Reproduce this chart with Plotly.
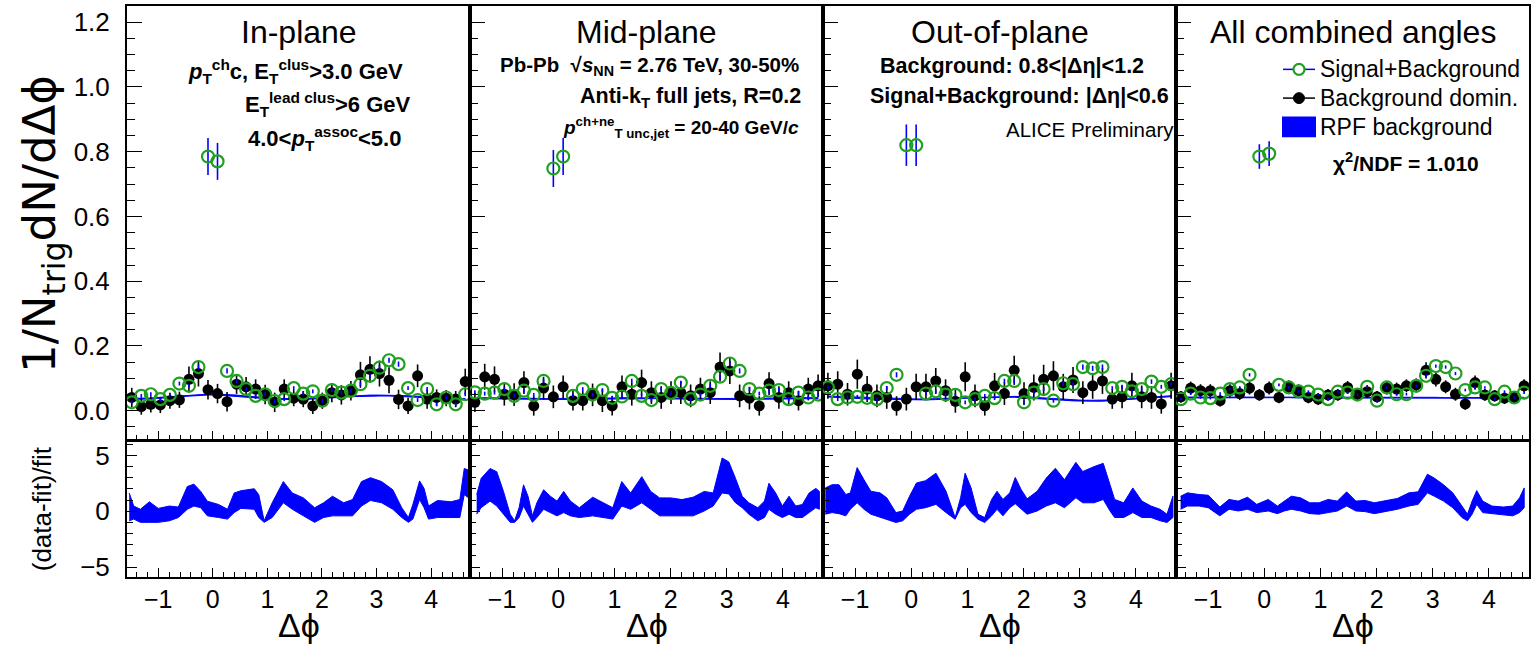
import numpy as np
import plotly.graph_objects as go

W, H = 1537, 652
FONT = "Liberation Sans, Arial, sans-serif"
GREEN = "#1fa01f"
BLUE = "#0000ff"

# ---------------- binning ----------------
NBINS = 36
PHI_MIN, PHI_MAX = -np.pi / 2, 3 * np.pi / 2
bw = (PHI_MAX - PHI_MIN) / NBINS
phi = [PHI_MIN + (i + 0.5) * bw for i in range(NBINS)]

panel_titles = ["In-plane", "Mid-plane", "Out-of-plane", "All combined angles"]
legend_labels = ["Signal+Background", "Background domin.", "RPF background"]

# ---------------- top panels: correlation functions ----------------
sig_in = [0.026, 0.046, 0.051, 0.036, 0.049, 0.084, 0.077, 0.135, 0.785, 0.770, 0.123, 0.092,
          0.067, 0.046, 0.051, 0.030, 0.036, 0.070, 0.053, 0.060, 0.031, 0.064, 0.056, 0.062,
          0.082, 0.108, 0.133, 0.156, 0.144, 0.070, 0.033, 0.067, 0.020, 0.041, 0.020, 0.051]
sig_err_in = [0.006, 0.006, 0.006, 0.006, 0.006, 0.006, 0.006, 0.008, 0.057, 0.057, 0.008, 0.006,
              0.006, 0.006, 0.006, 0.006, 0.006, 0.006, 0.006, 0.006, 0.006, 0.006, 0.006, 0.006,
              0.006, 0.007, 0.008, 0.008, 0.008, 0.006, 0.006, 0.006, 0.006, 0.006, 0.006, 0.006]
bkg_in = [0.041, 0.013, 0.020, 0.018, 0.031, 0.034, 0.097, 0.115, 0.065, 0.053, 0.028, 0.082,
          0.074, 0.067, 0.050, 0.026, 0.067, 0.039, 0.036, 0.015, 0.031, 0.056, 0.049, 0.062,
          0.111, 0.128, 0.115, 0.094, 0.035, 0.015, 0.108, 0.036, 0.041, 0.039, 0.036, 0.090]
bkg_err_in = [0.030, 0.025, 0.025, 0.025, 0.025, 0.025, 0.040, 0.040, 0.030, 0.030, 0.030, 0.030,
              0.030, 0.030, 0.030, 0.030, 0.030, 0.025, 0.025, 0.025, 0.025, 0.030, 0.030, 0.030,
              0.040, 0.040, 0.040, 0.040, 0.030, 0.025, 0.035, 0.030, 0.025, 0.025, 0.025, 0.040]
fit_in = [0.037, 0.037, 0.038, 0.040, 0.042, 0.045, 0.047, 0.049, 0.050, 0.050, 0.049, 0.047,
          0.044, 0.041, 0.039, 0.037, 0.036, 0.036, 0.036, 0.037, 0.039, 0.041, 0.043, 0.045,
          0.046, 0.047, 0.047, 0.047, 0.046, 0.045, 0.043, 0.041, 0.039, 0.037, 0.036, 0.036]

sig_mid = [0.057, 0.053, 0.056, 0.067, 0.046, 0.062, 0.049, 0.092, 0.748, 0.785, 0.046, 0.067,
           0.050, 0.064, 0.040, 0.044, 0.092, 0.046, 0.033, 0.067, 0.055, 0.087, 0.036, 0.050,
           0.077, 0.105, 0.146, 0.123, 0.067, 0.053, 0.062, 0.064, 0.036, 0.056, 0.041, 0.050]
sig_err_mid = [0.006, 0.006, 0.006, 0.006, 0.006, 0.006, 0.006, 0.007, 0.057, 0.057, 0.006, 0.006,
               0.006, 0.006, 0.006, 0.006, 0.007, 0.006, 0.006, 0.006, 0.006, 0.006, 0.006, 0.006,
               0.006, 0.007, 0.008, 0.008, 0.006, 0.006, 0.006, 0.006, 0.006, 0.006, 0.006, 0.006]
bkg_mid = [0.026, 0.105, 0.097, 0.051, 0.050, 0.087, 0.015, 0.070, 0.043, 0.074, 0.031, 0.031,
           0.049, 0.031, 0.015, 0.074, 0.051, 0.087, 0.056, 0.041, 0.056, 0.056, 0.046, 0.067,
           0.056, 0.135, 0.123, 0.046, 0.039, 0.015, 0.084, 0.041, 0.056, 0.031, 0.067, 0.077]
bkg_err_mid = [0.030, 0.040, 0.040, 0.035, 0.035, 0.035, 0.030, 0.035, 0.035, 0.035, 0.030, 0.030,
               0.035, 0.035, 0.030, 0.035, 0.035, 0.040, 0.035, 0.035, 0.035, 0.035, 0.035, 0.035,
               0.035, 0.045, 0.040, 0.035, 0.035, 0.030, 0.035, 0.035, 0.035, 0.030, 0.035, 0.035]
fit_mid = [0.039, 0.039, 0.038, 0.038, 0.037, 0.037, 0.037, 0.036, 0.036, 0.036, 0.036, 0.037,
           0.037, 0.038, 0.038, 0.039, 0.039, 0.039, 0.039, 0.039, 0.038, 0.038, 0.037, 0.037,
           0.036, 0.036, 0.036, 0.036, 0.036, 0.037, 0.037, 0.038, 0.038, 0.039, 0.039, 0.039]

sig_out = [0.072, 0.036, 0.041, 0.043, 0.040, 0.036, 0.070, 0.111, 0.820, 0.820, 0.053, 0.060,
           0.050, 0.049, 0.026, 0.036, 0.046, 0.039, 0.092, 0.092, 0.026, 0.056, 0.067, 0.031,
           0.085, 0.082, 0.135, 0.131, 0.135, 0.070, 0.074, 0.060, 0.067, 0.090, 0.074, 0.082]
sig_err_out = [0.006, 0.006, 0.006, 0.006, 0.006, 0.006, 0.006, 0.008, 0.064, 0.064, 0.006, 0.006,
               0.006, 0.006, 0.006, 0.006, 0.006, 0.006, 0.007, 0.007, 0.006, 0.006, 0.006, 0.006,
               0.006, 0.006, 0.008, 0.008, 0.008, 0.006, 0.006, 0.006, 0.006, 0.007, 0.006, 0.006]
bkg_out = [0.077, 0.082, 0.051, 0.113, 0.067, 0.046, 0.041, 0.015, 0.036, 0.074, 0.074, 0.092,
           0.062, 0.029, 0.105, 0.046, 0.015, 0.077, 0.053, 0.125, 0.053, 0.072, 0.097, 0.108,
           0.074, 0.095, 0.056, 0.077, 0.092, 0.036, 0.043, 0.077, 0.043, 0.041, 0.021, 0.077]
bkg_err_out = [0.040, 0.040, 0.035, 0.045, 0.040, 0.035, 0.035, 0.030, 0.035, 0.040, 0.040, 0.040,
               0.035, 0.035, 0.045, 0.035, 0.030, 0.040, 0.035, 0.045, 0.035, 0.040, 0.045, 0.045,
               0.040, 0.040, 0.035, 0.040, 0.040, 0.030, 0.035, 0.040, 0.035, 0.035, 0.030, 0.040]
fit_out = [0.044, 0.043, 0.042, 0.040, 0.038, 0.037, 0.036, 0.035, 0.035, 0.035, 0.035, 0.036,
           0.037, 0.038, 0.040, 0.041, 0.042, 0.043, 0.043, 0.043, 0.042, 0.040, 0.038, 0.036,
           0.034, 0.032, 0.031, 0.031, 0.031, 0.032, 0.034, 0.036, 0.039, 0.041, 0.043, 0.045]

sig_all = [0.036, 0.053, 0.041, 0.039, 0.053, 0.067, 0.072, 0.111, 0.785, 0.794, 0.080, 0.072,
           0.060, 0.059, 0.050, 0.036, 0.059, 0.056, 0.050, 0.074, 0.031, 0.072, 0.051, 0.051,
           0.077, 0.108, 0.138, 0.135, 0.115, 0.064, 0.072, 0.072, 0.036, 0.059, 0.041, 0.056]
sig_err_all = [0.004, 0.004, 0.004, 0.004, 0.004, 0.004, 0.004, 0.005, 0.038, 0.038, 0.004, 0.004,
               0.004, 0.004, 0.004, 0.004, 0.004, 0.004, 0.004, 0.004, 0.004, 0.004, 0.004, 0.004,
               0.004, 0.005, 0.005, 0.005, 0.005, 0.004, 0.004, 0.004, 0.004, 0.004, 0.004, 0.004]
bkg_all = [0.043, 0.070, 0.062, 0.062, 0.031, 0.062, 0.053, 0.070, 0.049, 0.070, 0.041, 0.074,
           0.062, 0.041, 0.036, 0.049, 0.049, 0.072, 0.051, 0.059, 0.043, 0.070, 0.067, 0.077,
           0.080, 0.125, 0.097, 0.074, 0.051, 0.021, 0.087, 0.049, 0.046, 0.039, 0.041, 0.077]
bkg_err_all = [0.018, 0.020, 0.020, 0.020, 0.018, 0.020, 0.020, 0.020, 0.018, 0.020, 0.018, 0.020,
               0.020, 0.018, 0.018, 0.018, 0.018, 0.020, 0.018, 0.020, 0.018, 0.020, 0.020, 0.020,
               0.020, 0.025, 0.022, 0.020, 0.020, 0.018, 0.022, 0.018, 0.018, 0.018, 0.018, 0.020]
fit_all = [0.041, 0.041, 0.041, 0.041, 0.041, 0.042, 0.042, 0.042, 0.042, 0.042, 0.042, 0.042,
           0.041, 0.041, 0.040, 0.040, 0.040, 0.040, 0.040, 0.040, 0.040, 0.040, 0.041, 0.041,
           0.041, 0.041, 0.040, 0.039, 0.039, 0.039, 0.040, 0.040, 0.040, 0.040, 0.040, 0.040]
FIT_HALFWIDTH = 0.0015

# ---------------- bottom panels: (data-fit)/fit bands ----------------
res_in_phi = [-1.53, -1.448, -1.325, -1.162, -0.998, -0.794, -0.63, -0.466, -0.344, -0.221, -0.098,
              0.107, 0.27, 0.393, 0.516, 0.761, 0.843, 0.941, 1.089, 1.293, 1.457, 1.661, 1.866,
              2.03, 2.193, 2.398, 2.561, 2.725, 2.889, 3.093, 3.298, 3.462, 3.584, 3.666, 3.789,
              3.871, 3.953, 4.117, 4.362, 4.526, 4.607, 4.689]
res_in_hi = [1.64, 0.47, 0.18, 0.85, 0.26, 0.47, 0.38, 2.22, 2.43, 1.78, 0.90, 0.61, 0.18, 1.64,
             1.84, 2.02, 1.49, -0.85, 0.76, 2.66, 1.64, 1.20, 0.32, 0.76, 1.35, 0.76, 1.05, 2.66,
             3.01, 2.66, 1.93, 0.32, -0.56, 0.61, 2.72, 2.05, 0.47, 0.97, 0.85, 1.05, 3.83, 3.68]
res_in_lo = [-0.85, -0.70, -0.99, -0.99, -0.99, -0.85, -0.56, 0.18, 0.47, 0.32, -0.41, -0.56,
             -0.70, -0.12, 0.26, 0.18, -0.56, -0.99, -0.56, 0.76, 0.18, -0.41, -0.99, -0.56,
             -0.41, -0.41, -0.41, 0.47, 0.97, 0.76, 0.18, -0.56, -0.99, -0.70, 1.05, 0.32, -0.70,
             -0.56, -0.56, -0.56, 1.49, 1.20]

res_mid_phi = [-1.452, -1.372, -1.214, -1.094, -0.975, -0.856, -0.777, -0.697, -0.618, -0.538,
               -0.459, -0.38, -0.26, -0.141, -0.022, 0.097, 0.216, 0.375, 0.613, 0.812, 0.971,
               1.13, 1.289, 1.487, 1.646, 1.805, 2.003, 2.202, 2.4, 2.599, 2.758, 2.917, 3.036,
               3.155, 3.274, 3.393, 3.552, 3.671, 3.75, 3.87, 3.989, 4.108, 4.227, 4.346, 4.465,
               4.585, 4.648]
res_mid_hi = [1.49, 2.95, 3.83, 3.54, 1.78, -0.26, -0.85, 0.32, 2.37, 1.35, -0.41, 0.76, 1.93,
              1.35, 0.91, 1.78, 0.91, 0.32, 1.26, 0.76, 0.32, 2.66, 1.64, 3.10, 1.78, 1.20, 1.20,
              1.05, 1.26, 1.78, 1.64, 4.77, 4.42, 2.95, 1.35, 0.76, 0.32, 0.91, 2.51, 1.64, 0.47,
              1.35, 0.47, 0.61, 1.64, 2.05, 1.78]
res_mid_lo = [-0.26, 0.32, 0.91, 0.47, -0.26, -0.99, -0.99, -0.56, 0.47, -0.26, -0.99, -0.56,
              0.18, -0.12, -0.41, -0.12, -0.41, -0.56, -0.41, -0.56, -0.70, 0.47, 0.18, 0.76,
              0.18, -0.41, -0.41, -0.41, -0.41, 0.03, 0.47, 1.64, 1.55, 0.76, 0.32, -0.26, -0.85,
              -0.56, 0.18, -0.26, -0.56, -0.26, -0.56, -0.56, -0.12, 0.32, 0.18]

res_out_phi = [-1.53, -1.409, -1.287, -1.165, -1.084, -0.963, -0.841, -0.719, -0.557, -0.436,
               -0.273, -0.152, -0.03, 0.092, 0.254, 0.44, 0.619, 0.781, 0.878, 0.959, 1.065,
               1.187, 1.308, 1.43, 1.527, 1.632, 1.754, 1.851, 1.957, 2.062, 2.241, 2.403, 2.565,
               2.727, 2.93, 3.052, 3.255, 3.417, 3.538, 3.62, 3.782, 3.944, 4.106, 4.268, 4.43,
               4.552, 4.658]
res_out_hi = [2.09, 2.38, 2.38, 1.50, 1.65, 3.91, 2.82, 1.79, 1.65, 1.21, -0.12, 0.03, 1.35,
              2.53, 2.74, 3.41, 1.79, -0.56, 1.21, 3.41, 2.09, -0.26, -0.56, 1.06, 1.79, 1.06,
              1.65, 3.03, 1.94, 1.12, 1.79, 2.97, 3.85, 2.82, 4.38, 3.56, 4.00, 4.29, 2.38, 1.06,
              0.76, 2.09, 0.91, 0.47, 0.18, -0.26, 1.35]
res_out_lo = [-0.26, -0.12, -0.21, -0.41, 0.18, 0.76, 0.18, -0.26, -0.56, -0.71, -1.0, -0.85,
              -0.26, 0.18, 0.32, 0.62, -0.12, -0.71, 0.32, 0.62, -0.12, -0.71, -1.0, -0.41, 0.18,
              -0.41, 0.32, 0.68, 0.18, -0.26, 0.03, 0.47, 0.76, 0.32, 1.21, 0.76, 0.76, 1.06, 0.03,
              -0.56, -0.56, -0.12, -0.56, -0.56, -0.85, -1.0, -0.56]

res_all_phi = [-1.489, -1.366, -1.16, -0.996, -0.791, -0.627, -0.463, -0.298, -0.134, 0.071,
               0.235, 0.358, 0.482, 0.646, 0.81, 0.974, 1.138, 1.302, 1.467, 1.631, 1.795, 1.959,
               2.165, 2.37, 2.575, 2.739, 2.904, 3.027, 3.191, 3.355, 3.519, 3.618, 3.7, 3.782,
               3.889, 4.053, 4.258, 4.422, 4.545, 4.627]
res_all_hi = [1.35, 1.65, 1.50, 1.44, 0.38, 1.06, 0.91, 1.26, 0.62, 1.06, 0.47, 0.91, 1.35, 1.21,
              0.76, 0.76, 1.06, 0.91, 1.74, 0.91, 0.97, 0.76, 0.97, 1.15, 1.65, 1.74, 3.32, 2.97,
              2.38, 1.65, 0.47, -0.26, 0.91, 1.85, 0.91, 0.47, 0.38, 0.47, 1.21, 2.09]
res_all_lo = [0.18, 0.47, 0.47, 0.32, -0.41, 0.18, 0.03, 0.18, -0.12, 0.03, -0.21, 0.03, 0.18,
              0.03, -0.21, -0.26, -0.12, 0.03, 0.47, 0.03, -0.03, -0.21, -0.03, 0.18, 0.47, 0.62,
              1.65, 1.35, 0.91, 0.32, -0.56, -0.85, -0.26, 0.62, -0.12, -0.26, -0.32, -0.41,
              -0.12, 0.32]

panels = [
    dict(sig=sig_in, sig_err=sig_err_in, bkg=bkg_in, bkg_err=bkg_err_in, fit=fit_in,
         rphi=res_in_phi, rhi=res_in_hi, rlo=res_in_lo),
    dict(sig=sig_mid, sig_err=sig_err_mid, bkg=bkg_mid, bkg_err=bkg_err_mid, fit=fit_mid,
         rphi=res_mid_phi, rhi=res_mid_hi, rlo=res_mid_lo),
    dict(sig=sig_out, sig_err=sig_err_out, bkg=bkg_out, bkg_err=bkg_err_out, fit=fit_out,
         rphi=res_out_phi, rhi=res_out_hi, rlo=res_out_lo),
    dict(sig=sig_all, sig_err=sig_err_all, bkg=bkg_all, bkg_err=bkg_err_all, fit=fit_all,
         rphi=res_all_phi, rhi=res_all_hi, rlo=res_all_lo),
]

# ---------------- layout geometry (pixels) ----------------
panel_edges_px = [127, 470, 823, 1176, 1529]
top_px = (6, 444)
bot_px = (445, 582)
TOP_RANGE = [-0.09, 1.25]
BOT_RANGE = [-5.85, 6.3]


def px_x(p):
    return p / W


def px_y(p):
    return 1 - p / H


fig = go.Figure()
layout_axes = {}

for k, pdat in enumerate(panels):
    ti = 2 * k + 1
    bi = 2 * k + 2
    xt, yt = ("x" if ti == 1 else f"x{ti}"), ("y" if ti == 1 else f"y{ti}")
    xb, yb = f"x{bi}", f"y{bi}"

    # RPF background band (top)
    band_hi = [f + FIT_HALFWIDTH for f in pdat["fit"]]
    band_lo = [f - FIT_HALFWIDTH for f in pdat["fit"]]
    fig.add_trace(go.Scatter(
        x=phi + phi[::-1], y=band_hi + band_lo[::-1], fill="toself", fillcolor=BLUE,
        line=dict(color=BLUE, width=1), mode="lines", xaxis=xt, yaxis=yt,
        showlegend=False, hoverinfo="skip"))
    # background dominated
    fig.add_trace(go.Scatter(
        x=phi, y=pdat["bkg"], mode="markers", xaxis=xt, yaxis=yt,
        marker=dict(symbol="circle", color="black", size=11),
        error_y=dict(type="data", array=pdat["bkg_err"], color="black", thickness=1.6, width=0),
        showlegend=False))
    # signal + background
    fig.add_trace(go.Scatter(
        x=phi, y=pdat["sig"], mode="markers", xaxis=xt, yaxis=yt,
        marker=dict(symbol="circle-open", color=GREEN, size=12, line=dict(width=2.2, color=GREEN)),
        error_y=dict(type="data", array=pdat["sig_err"], color=BLUE, thickness=1.6, width=0),
        showlegend=False))
    # residual band (bottom)
    fig.add_trace(go.Scatter(
        x=pdat["rphi"] + pdat["rphi"][::-1], y=pdat["rhi"] + pdat["rlo"][::-1],
        fill="toself", fillcolor=BLUE, line=dict(color=BLUE, width=1), mode="lines",
        xaxis=xb, yaxis=yb, showlegend=False, hoverinfo="skip"))

    dom = [px_x(panel_edges_px[k]), px_x(panel_edges_px[k + 1])]
    common_x = dict(domain=dom, range=[PHI_MIN, PHI_MAX], showgrid=False, zeroline=False,
                    showline=True, linecolor="black", linewidth=2, mirror=True,
                    ticks="inside", ticklen=9, tickwidth=1.3, tickcolor="black",
                    tick0=0, dtick=1,
                    minor=dict(ticks="inside", ticklen=5, tickwidth=1.1, tickcolor="black", dtick=0.2),
                    tickfont=dict(family=FONT, size=25, color="black"))
    layout_axes["xaxis" if ti == 1 else f"xaxis{ti}"] = dict(common_x, anchor=yt, showticklabels=False)
    layout_axes[f"xaxis{bi}"] = dict(common_x, anchor=yb, showticklabels=True, ticklabelstandoff=-1)

    layout_axes["yaxis" if ti == 1 else f"yaxis{ti}"] = dict(
        domain=[px_y(top_px[1]), px_y(top_px[0])], range=TOP_RANGE, anchor=xt,
        showgrid=False, zeroline=False, showline=True, linecolor="black", linewidth=2, mirror=True,
        ticks="inside", ticklen=15, tickwidth=1.3, tickcolor="black", tick0=0, dtick=0.2,
        tickformat=".1f",
        minor=dict(ticks="inside", ticklen=8, tickwidth=1.1, tickcolor="black", dtick=0.05),
        showticklabels=(k == 0), ticklabelstandoff=10,
        tickfont=dict(family=FONT, size=26, color="black"))
    layout_axes[f"yaxis{bi}"] = dict(
        domain=[px_y(bot_px[1]), px_y(bot_px[0])], range=BOT_RANGE, anchor=xb,
        showgrid=False, zeroline=False, showline=True, linecolor="black", linewidth=2, mirror=True,
        ticks="inside", ticklen=10, tickwidth=1.3, tickcolor="black", tick0=0, dtick=5,
        minor=dict(ticks="inside", ticklen=6, tickwidth=1.1, tickcolor="black", dtick=1),
        showticklabels=(k == 0), ticklabelstandoff=10,
        tickfont=dict(family=FONT, size=26, color="black"))

annotations = []
shapes = []


def ann(text, x, y, size, xanchor="center", yanchor="middle", angle=0, family=FONT):
    annotations.append(dict(text=text, x=px_x(x), y=px_y(y), xref="paper", yref="paper",
                            xanchor=xanchor, yanchor=yanchor, showarrow=False, textangle=angle,
                            font=dict(family=family, size=size, color="black")))


centers = [(panel_edges_px[k] + panel_edges_px[k + 1]) / 2 for k in range(4)]
for k, t in enumerate(panel_titles):
    ann(t, centers[k], 32, 32)
    ann("Δϕ", centers[k], 631, 34)

ann("1/N<sub>trig</sub>dN/dΔϕ", 42, 226, 45, angle=-90, family="DejaVu Sans, Liberation Sans, sans-serif")
ann("(data-fit)/fit", 42, 514, 26, angle=-90)

ann("<b><i>p</i><sub>T</sub><sup>ch</sup>c, E<sub>T</sub><sup>clus</sup>&gt;3.0 GeV</b>", 295, 72, 22)
ann("<b>E<sub>T</sub><sup>lead clus</sup>&gt;6 GeV</b>", 328, 105, 22)
ann("<b>4.0&lt;<i>p</i><sub>T</sub><sup>assoc</sup>&lt;5.0</b>", 324, 140, 22)

ann("<b>Pb-Pb  √<i>s</i><sub>NN</sub> = 2.76 TeV, 30-50%</b>", 649, 67, 20.5)
ann("<b>Anti-k<sub>T</sub> full jets, R=0.2</b>", 690, 98, 21.5)
ann("<b><i>p</i><sup>ch+ne</sup><sub>T unc,jet</sub> = 20-40 GeV/<i>c</i></b>", 681, 129, 19)

ann("<b>Background: 0.8&lt;|Δη|&lt;1.2</b>", 1012, 67, 21.5)
ann("<b>Signal+Background: |Δη|&lt;0.6</b>", 1019, 97, 21.5)
ann("ALICE Preliminary", 1090, 131, 20.5)

ann("<b>χ<sup>2</sup>/NDF = 1.010</b>", 1406, 164, 21)

# ---- legend (drawn as in the ROOT TLegend) ----
LEG_SYM_X = (1283, 1315)
LEG_TEXT_X = 1318
LEG_ROWS = [70, 99, 128]
R = 5.5
cx = (LEG_SYM_X[0] + LEG_SYM_X[1]) / 2
# Signal+Background: blue line + green open circle
shapes.append(dict(type="line", xref="paper", yref="paper", x0=px_x(LEG_SYM_X[0]), x1=px_x(LEG_SYM_X[1]),
                   y0=px_y(LEG_ROWS[0]), y1=px_y(LEG_ROWS[0]), line=dict(color=BLUE, width=1.5)))
shapes.append(dict(type="circle", xref="paper", yref="paper", x0=px_x(cx - R), x1=px_x(cx + R),
                   y0=px_y(LEG_ROWS[0] + R), y1=px_y(LEG_ROWS[0] - R),
                   line=dict(color=GREEN, width=2.2), fillcolor="white"))
# Background domin.: black line + black dot
shapes.append(dict(type="line", xref="paper", yref="paper", x0=px_x(LEG_SYM_X[0]), x1=px_x(LEG_SYM_X[1]),
                   y0=px_y(LEG_ROWS[1]), y1=px_y(LEG_ROWS[1]), line=dict(color="black", width=1.5)))
shapes.append(dict(type="circle", xref="paper", yref="paper", x0=px_x(cx - R), x1=px_x(cx + R),
                   y0=px_y(LEG_ROWS[1] + R), y1=px_y(LEG_ROWS[1] - R),
                   line=dict(color="black", width=1), fillcolor="black"))
# RPF background: filled blue box
shapes.append(dict(type="rect", xref="paper", yref="paper", x0=px_x(LEG_SYM_X[0] - 1), x1=px_x(LEG_SYM_X[1] + 1),
                   y0=px_y(LEG_ROWS[2] + 10.5), y1=px_y(LEG_ROWS[2] - 10.5),
                   line=dict(color=BLUE, width=0), fillcolor=BLUE))
for lbl, yrow in zip(legend_labels, LEG_ROWS):
    ann(lbl, LEG_TEXT_X, yrow, 23, xanchor="left")

fig.update_layout(
    width=W, height=H, margin=dict(l=0, r=0, t=0, b=0),
    paper_bgcolor="white", plot_bgcolor="white",
    font=dict(family=FONT, color="black"),
    showlegend=False,
    annotations=annotations,
    shapes=shapes,
    **layout_axes,
)

fig.write_html("out.html",
               config={"displayModeBar": False},
               post_script="document.body.style.margin='0px';document.body.style.overflow='hidden';")
